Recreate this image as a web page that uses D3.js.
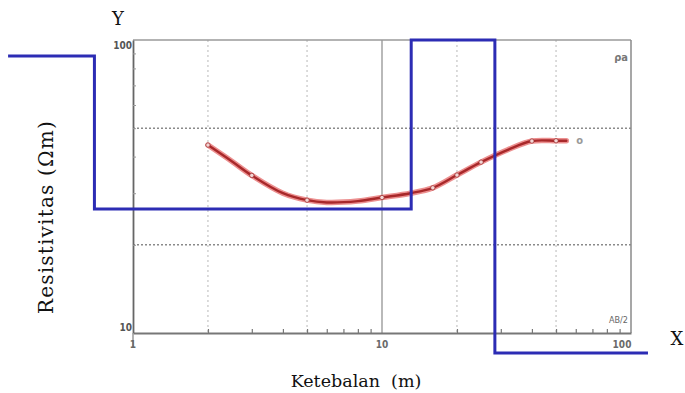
<!DOCTYPE html>
<html><head><meta charset="utf-8">
<script src="https://cdn.jsdelivr.net/npm/d3@7"></script>
<style>body{margin:0;background:#fff}svg{display:block}</style>
</head><body>
<svg id="c" width="685" height="393"></svg>
<script>
// Data
const curveX = [2, 2.5, 3, 4, 5, 6, 8, 10, 13, 16, 20, 25, 32, 40, 50, 55];
const curveY = [43.8, 38.5, 34.5, 30.0, 28.4, 27.9, 28.2, 29.0, 30.0, 31.3, 34.6, 38.3, 42.2, 45.2, 45.3, 45.3];
const markerX = [2, 3, 5, 10, 16, 20, 25, 40, 50];
const layerRes = [88.2, 26.5, 100, 8.55];
const layerBounds = [0.315, 0.70, 13.1, 28.4, 117];
const xTickLabels = ["1", "10", "100"];
const yTickLabels = ["10", "100"];

const svg = d3.select("#c");
const x = d3.scaleLog().domain([1, 100]).range([133, 631]);
const y = d3.scaleLog().domain([10, 100]).range([333, 40]);

// gridlines
const g = svg.append("g");
[2, 5, 20, 50].forEach(v => g.append("line").attr("x1", x(v)).attr("x2", x(v)).attr("y1", y(100)).attr("y2", y(10))
  .attr("stroke", "#b8b8b8").attr("stroke-width", 1).attr("stroke-dasharray", "2,3"));
[20, 50].forEach(v => g.append("line").attr("x1", x(1)).attr("x2", x(100)).attr("y1", y(v)).attr("y2", y(v))
  .attr("stroke", "#8a8a8a").attr("stroke-width", 1.5).attr("stroke-dasharray", "2,2"));
g.append("line").attr("x1", x(10)).attr("x2", x(10)).attr("y1", y(100)).attr("y2", y(10))
  .attr("stroke", "#8a8a8a").attr("stroke-width", 1.2);

// frame
svg.append("line").attr("x1", x(1)).attr("x2", x(100)).attr("y1", y(100)).attr("y2", y(100)).attr("stroke", "#9a9a9a").attr("stroke-width", 1.5);
svg.append("line").attr("x1", x(100)).attr("x2", x(100)).attr("y1", y(100)).attr("y2", y(10)).attr("stroke", "#8a8a8a").attr("stroke-width", 1.5);

// axes
const xAxis = d3.axisBottom(x).tickValues([2,3,4,5,6,7,8,9,20,30,40,50,60,70,80,90]).tickSizeInner(-4).tickSizeOuter(0).tickFormat("");
const xa = svg.append("g").attr("transform", `translate(0,${y(10)})`).call(xAxis);
xa.select(".domain").attr("stroke", "#777").attr("stroke-width", 1.8);
xa.selectAll(".tick line").attr("stroke", "#777").attr("stroke-width", 1.2);

const yAxis = d3.axisLeft(y).tickValues([20,30,40,50,60,70,80,90]).tickSizeInner(-3).tickSizeOuter(0).tickFormat("");
const ya = svg.append("g").attr("transform", `translate(${x(1)},0)`).call(yAxis);
ya.select(".domain").attr("stroke", "#666").attr("stroke-width", 1.8);
ya.selectAll(".tick line").attr("stroke", "#999").attr("stroke-width", 1);
svg.append("line").attr("x1", x(1)).attr("x2", x(1)).attr("y1", y(10)).attr("y2", y(10) + 14).attr("stroke", "#999").attr("stroke-width", 1.5);

// tick labels
const lblFont = "'Liberation Sans Narrow', 'DejaVu Sans Condensed', sans-serif";
xTickLabels.forEach((t, i) => {
  const v = +t;
  svg.append("text").attr("x", v === 100 ? x(v) - 9 : x(v)).attr("y", y(10) + 15).attr("text-anchor", "middle")
    .attr("font-family", lblFont).attr("font-size", 10).attr("font-weight", "bold").attr("fill", "#6a6a6a").text(t);
});
yTickLabels.forEach(t => {
  const v = +t;
  svg.append("text").attr("x", x(1) - 1).attr("y", v === 100 ? y(v) + 9 : y(v) - 2).attr("text-anchor", "end")
    .attr("font-family", lblFont).attr("font-size", 10).attr("font-weight", "bold").attr("fill", "#555").text(t);
});
svg.append("text").attr("x", x(100) - 3).attr("y", y(100) + 21).attr("text-anchor", "end")
  .attr("font-family", lblFont).attr("font-size", 11).attr("font-weight", "bold").attr("fill", "#777").text("ρa");
svg.append("text").attr("x", x(100) - 3).attr("y", y(10) - 10).attr("text-anchor", "end")
  .attr("font-family", lblFont).attr("font-size", 9).attr("fill", "#666").text("AB/2");

// curve
const pts = curveX.map((v, i) => [x(v), y(curveY[i])]);
const line = d3.line().curve(d3.curveCatmullRom);
svg.append("path").attr("d", line(pts)).attr("fill", "none").attr("stroke", "#ec9090").attr("stroke-width", 5.5).attr("stroke-linecap", "round");
svg.append("path").attr("d", line(pts)).attr("fill", "none").attr("stroke", "#a8282a").attr("stroke-width", 2.4).attr("stroke-linecap", "round");
markerX.forEach(v => {
  const i = curveX.indexOf(v);
  svg.append("circle").attr("cx", x(v)).attr("cy", y(curveY[i])).attr("r", 2.2).attr("fill", "#f3d6d6").attr("stroke", "#a03030").attr("stroke-width", 0.8);
});
svg.append("text").attr("x", x(55) + 10).attr("y", y(45.3) + 3).attr("font-family", lblFont).attr("font-size", 11).attr("font-weight", "bold").attr("fill", "#999").text("o");

// model step line
const stepPts = [];
layerRes.forEach((r, i) => {
  stepPts.push([x(layerBounds[i]), y(r)]);
  stepPts.push([x(layerBounds[i + 1]), y(r)]);
});
svg.append("path").attr("d", d3.line()(stepPts)).attr("fill", "none").attr("stroke", "#2c2cb4").attr("stroke-width", 3);

// titles
const serif = "'DejaVu Serif', 'Liberation Serif', serif";
svg.append("text").attr("x", 118).attr("y", 25).attr("text-anchor", "middle").attr("font-family", serif).attr("font-size", 18).attr("fill", "#111").text("Y");
svg.append("text").attr("x", 677).attr("y", 345).attr("text-anchor", "middle").attr("font-family", serif).attr("font-size", 18).attr("fill", "#111").text("X");
svg.append("text").attr("x", 356).attr("y", 387).attr("text-anchor", "middle").attr("font-family", serif).attr("font-size", 17.5).attr("fill", "#111")
  .style("white-space", "pre").text("Ketebalan  (m)");
svg.append("text").attr("transform", "translate(53,217) rotate(-90)").attr("text-anchor", "middle").attr("font-family", serif).attr("font-size", 20).attr("fill", "#111")
  .attr("letter-spacing", 1.2).text("Resistivitas (Ωm)");
</script>
</body></html>
